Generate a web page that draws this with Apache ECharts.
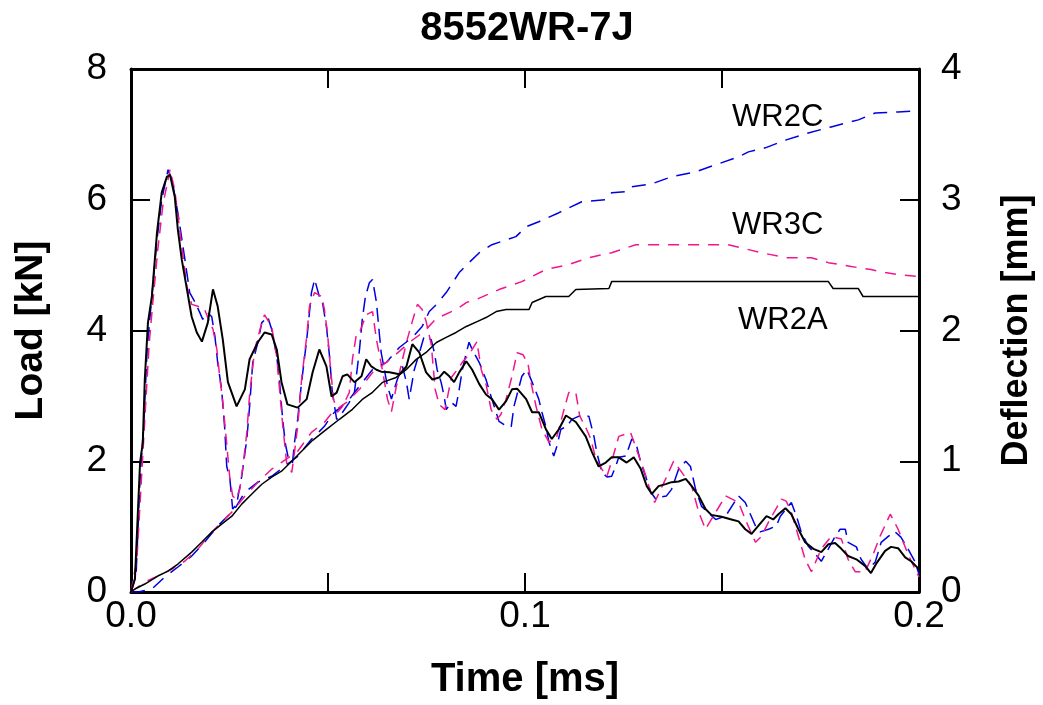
<!DOCTYPE html>
<html>
<head>
<meta charset="utf-8">
<script src="https://cdn.jsdelivr.net/npm/echarts@6/dist/echarts.min.js"></script>
<style>
html,body{margin:0;padding:0;background:#fff;}
#chart{width:1043px;height:705px;}
</style>
</head>
<body>
<div id="chart"></div>
<script>
// ---- Data (time in ms, load in kN, deflection in mm) ----
var xTicks = [0, 0.1, 0.2];

var t2A = [0,0.0010,0.0023,0.0030,0.0035,0.0043,0.0053,0.0066,0.0078,0.0091,0.0099,0.0111,0.0119,0.0129,0.0142,0.0154,0.0167,0.0180,0.0195,0.0208,0.0220,0.0233,0.0246,0.0268,0.0289,0.0301,0.0322,0.0339,0.0357,0.0370,0.0382,0.0397,0.0423,0.0446,0.0461,0.0478,0.0496,0.0509,0.0522,0.0537,0.0549,0.0567,0.0585,0.0597,0.0610,0.0623,0.0635,0.0656,0.0681,0.0699,0.0714,0.0732,0.0749,0.0765,0.0782,0.0795,0.0808,0.0820,0.0833,0.0851,0.0866,0.0884,0.0901,0.0916,0.0934,0.0952,0.0967,0.0980,0.1003,0.1018,0.1035,0.1053,0.1068,0.1086,0.1104,0.1129,0.1154,0.1170,0.1187,0.1205,0.1220,0.1238,0.1258,0.1276,0.1294,0.1309,0.1322,0.1339,0.1357,0.1372,0.1390,0.1408,0.1423,0.1441,0.1458,0.1473,0.1499,0.1524,0.1542,0.1559,0.1575,0.1592,0.1613,0.1630,0.1643,0.1661,0.1676,0.1694,0.1711,0.1732,0.1752,0.1770,0.1787,0.1803,0.1820,0.1841,0.1863,0.1878,0.1891,0.1914,0.1929,0.1947,0.1965,0.1980,0.2000];
var load2A = [0,0.20,1.98,2.29,3.25,4.12,4.52,5.50,6.11,6.35,6.38,6.05,5.54,5.08,4.63,4.21,3.97,3.83,4.12,4.63,4.37,3.86,3.21,2.84,3.10,3.56,3.82,3.97,3.94,3.71,3.21,2.87,2.82,2.95,3.36,3.71,3.45,2.99,3.05,3.30,3.33,3.21,3.30,3.56,3.45,3.40,3.37,3.36,3.33,3.45,3.79,3.66,3.36,3.25,3.28,3.37,3.30,3.21,3.36,3.53,3.40,3.18,3.02,2.95,2.79,2.92,3.10,3.11,2.95,2.75,2.75,2.49,2.34,2.49,2.70,2.60,2.38,2.14,1.92,1.98,2.06,2.06,1.98,2.06,1.88,1.62,1.50,1.62,1.65,1.68,1.69,1.73,1.62,1.47,1.27,1.18,1.15,1.11,1.08,0.96,0.89,1.01,1.16,1.11,1.19,1.28,1.19,0.96,0.76,0.66,0.61,0.73,0.75,0.66,0.55,0.50,0.40,0.29,0.43,0.63,0.69,0.67,0.53,0.47,0.35];

var t2C = [0,0.0013,0.0023,0.0033,0.0041,0.0051,0.0066,0.0078,0.0094,0.0104,0.0119,0.0137,0.0149,0.0162,0.0175,0.0182,0.0195,0.0205,0.0213,0.0220,0.0230,0.0238,0.0243,0.0251,0.0258,0.0268,0.0281,0.0294,0.0301,0.0309,0.0322,0.0332,0.0347,0.0357,0.0370,0.0377,0.0385,0.0392,0.0400,0.0410,0.0415,0.0423,0.0433,0.0446,0.0458,0.0466,0.0478,0.0486,0.0496,0.0504,0.0511,0.0522,0.0537,0.0554,0.0567,0.0580,0.0587,0.0595,0.0605,0.0613,0.0623,0.0630,0.0635,0.0643,0.0651,0.0661,0.0668,0.0676,0.0689,0.0699,0.0706,0.0719,0.0732,0.0744,0.0762,0.0770,0.0777,0.0787,0.0795,0.0800,0.0813,0.0825,0.0833,0.0841,0.0851,0.0858,0.0866,0.0884,0.0901,0.0916,0.0934,0.0947,0.0965,0.0972,0.0992,0.1005,0.1018,0.1035,0.1043,0.1053,0.1061,0.1073,0.1081,0.1091,0.1106,0.1119,0.1137,0.1162,0.1175,0.1182,0.1195,0.1208,0.1220,0.1230,0.1238,0.1256,0.1271,0.1281,0.1294,0.1306,0.1319,0.1332,0.1344,0.1359,0.1372,0.1390,0.1408,0.1420,0.1433,0.1448,0.1484,0.1509,0.1542,0.1559,0.1585,0.1597,0.1618,0.1638,0.1648,0.1676,0.1689,0.1701,0.1719,0.1737,0.1752,0.1770,0.1787,0.1800,0.1813,0.1820,0.1841,0.1853,0.1871,0.1889,0.1904,0.1922,0.1939,0.1954,0.1972,0.1990,0.2000];
var load2C = [0,0.27,1.73,2.64,3.71,4.40,5.39,6.00,6.46,6.31,5.80,5.08,4.58,4.44,4.27,4.17,4.27,4.21,3.91,3.51,3.10,2.49,1.92,1.73,1.27,1.34,1.77,2.34,2.84,3.51,3.82,4.12,4.21,4.02,3.60,3.21,2.64,2.26,2.03,1.98,2.29,2.64,3.21,3.86,4.58,4.78,4.52,4.43,4.06,3.60,3.05,2.64,2.75,2.90,3.05,3.71,4.17,4.52,4.73,4.78,4.43,3.97,3.66,3.40,3.15,2.95,3.10,3.25,3.45,3.21,2.95,3.40,3.66,3.91,3.86,3.66,3.40,3.21,2.99,2.79,2.90,2.84,3.10,3.40,3.66,3.82,3.71,3.51,3.25,2.95,2.61,2.56,2.53,2.84,3.30,3.40,3.21,2.95,2.75,2.53,2.29,2.08,2.23,2.49,2.53,2.64,2.69,2.69,2.38,2.14,1.83,1.76,1.77,1.92,2.06,2.08,2.34,2.29,1.98,1.77,1.53,1.42,1.45,1.47,1.57,1.88,2.00,1.92,1.57,1.31,1.11,1.16,1.47,1.37,1.01,0.92,0.96,1.01,1.16,1.37,1.16,0.92,0.70,0.58,0.47,0.66,0.85,0.96,0.96,0.76,0.69,0.50,0.35,0.46,0.76,0.85,0.92,0.84,0.66,0.46,0.27];

var t3C = [0,0.0015,0.0025,0.0035,0.0046,0.0056,0.0068,0.0081,0.0099,0.0111,0.0129,0.0142,0.0154,0.0170,0.0187,0.0200,0.0208,0.0218,0.0225,0.0233,0.0243,0.0251,0.0258,0.0266,0.0276,0.0284,0.0294,0.0301,0.0314,0.0332,0.0339,0.0357,0.0370,0.0377,0.0385,0.0395,0.0408,0.0415,0.0423,0.0433,0.0446,0.0453,0.0466,0.0484,0.0491,0.0499,0.0506,0.0514,0.0524,0.0537,0.0554,0.0562,0.0572,0.0580,0.0597,0.0613,0.0623,0.0638,0.0651,0.0661,0.0673,0.0686,0.0701,0.0714,0.0727,0.0739,0.0749,0.0762,0.0772,0.0782,0.0797,0.0813,0.0828,0.0843,0.0858,0.0878,0.0889,0.0901,0.0914,0.0929,0.0939,0.0952,0.0967,0.0980,0.0995,0.1008,0.1015,0.1028,0.1043,0.1061,0.1081,0.1099,0.1111,0.1129,0.1139,0.1154,0.1167,0.1180,0.1195,0.1208,0.1223,0.1238,0.1268,0.1289,0.1301,0.1319,0.1329,0.1357,0.1377,0.1398,0.1423,0.1441,0.1458,0.1473,0.1509,0.1542,0.1562,0.1585,0.1600,0.1618,0.1651,0.1663,0.1676,0.1694,0.1711,0.1727,0.1752,0.1777,0.1803,0.1820,0.1838,0.1863,0.1884,0.1901,0.1927,0.1947,0.1972,0.1990,0.2000];
var load3C = [0,0.50,1.57,2.64,3.79,4.47,5.24,5.92,6.46,6.15,5.28,4.67,4.40,4.37,4.32,4.12,4.02,3.71,3.30,2.90,2.26,1.73,1.47,1.42,1.57,1.92,2.44,3.02,3.71,4.12,4.24,4.06,3.60,3.10,2.56,1.98,1.83,2.14,2.53,3.25,3.91,4.37,4.58,4.52,4.32,3.94,3.45,2.95,2.75,2.84,3.05,3.56,3.94,3.97,4.24,4.29,3.86,3.40,2.95,2.76,3.13,3.48,3.86,4.14,4.40,4.32,4.14,3.79,3.10,2.87,2.79,3.28,3.40,3.53,3.63,3.83,3.40,3.18,2.79,2.64,2.72,2.95,3.30,3.66,3.63,3.48,3.21,2.84,2.49,2.29,2.38,2.79,3.05,3.05,2.69,2.52,2.34,2.03,1.88,1.77,2.06,2.38,2.44,2.08,1.88,1.53,1.37,1.73,2.00,1.83,1.62,1.22,0.96,1.11,1.47,1.37,1.07,0.76,0.85,1.07,1.42,1.39,1.22,0.85,0.50,0.31,0.66,0.85,0.81,0.50,0.31,0.31,0.58,0.85,1.19,0.96,0.58,0.35,0.23];

var tD2A = [0,0.0010,0.0035,0.0068,0.0094,0.0119,0.0154,0.0180,0.0205,0.0230,0.0256,0.0281,0.0306,0.0332,0.0357,0.0382,0.0408,0.0433,0.0461,0.0496,0.0529,0.0562,0.0587,0.0613,0.0638,0.0673,0.0699,0.0724,0.0749,0.0775,0.0800,0.0825,0.0851,0.0884,0.0901,0.0927,0.0952,0.1010,0.1018,0.1053,0.1111,0.1129,0.1213,0.1220,0.1770,0.1782,0.1846,0.1858,0.2000];
var def2A = [0,0.023,0.061,0.122,0.160,0.214,0.305,0.382,0.458,0.519,0.580,0.672,0.748,0.824,0.878,0.924,1.000,1.076,1.160,1.244,1.321,1.397,1.473,1.527,1.603,1.641,1.702,1.779,1.832,1.908,1.947,1.985,2.031,2.076,2.099,2.145,2.160,2.160,2.214,2.260,2.260,2.313,2.321,2.374,2.374,2.321,2.321,2.260,2.260];

var tD2C = [0,0.0018,0.0053,0.0086,0.0119,0.0154,0.0187,0.0220,0.0263,0.0289,0.0322,0.0357,0.0390,0.0423,0.0458,0.0491,0.0511,0.0554,0.0587,0.0613,0.0648,0.0681,0.0714,0.0739,0.0757,0.0775,0.0800,0.0833,0.0858,0.0884,0.0916,0.0977,0.1003,0.1035,0.1086,0.1144,0.1205,0.1220,0.1256,0.1271,0.1322,0.1372,0.1433,0.1491,0.1542,0.1567,0.1610,0.1663,0.1719,0.1777,0.1846,0.1889,0.1947,0.2000];
var def2C = [0,0,0.023,0.115,0.191,0.275,0.382,0.504,0.634,0.763,0.840,0.885,0.962,1.038,1.168,1.267,1.359,1.473,1.603,1.702,1.756,1.870,1.947,2.031,2.145,2.198,2.290,2.443,2.519,2.595,2.656,2.718,2.794,2.832,2.901,2.985,3.000,3.053,3.061,3.099,3.122,3.176,3.214,3.275,3.328,3.366,3.397,3.458,3.511,3.557,3.611,3.664,3.672,3.679];

var tD3C = [0,0.0003,0.0035,0.0068,0.0104,0.0137,0.0170,0.0205,0.0230,0.0256,0.0289,0.0322,0.0357,0.0382,0.0423,0.0458,0.0491,0.0511,0.0547,0.0580,0.0613,0.0648,0.0681,0.0706,0.0744,0.0775,0.0825,0.0851,0.0876,0.0934,0.0992,0.1053,0.1111,0.1162,0.1220,0.1281,0.1516,0.1600,0.1661,0.1727,0.1770,0.1828,0.1878,0.1914,0.1947,0.2000];
var def3C = [0,0.008,0.076,0.122,0.176,0.237,0.328,0.458,0.534,0.611,0.733,0.840,0.939,0.992,1.076,1.221,1.298,1.374,1.450,1.550,1.679,1.756,1.840,1.908,1.992,2.092,2.160,2.214,2.237,2.313,2.374,2.466,2.504,2.557,2.595,2.656,2.656,2.595,2.557,2.557,2.519,2.489,2.466,2.443,2.427,2.412];

// ---- Build ----
function zip(a, b) {
  var n = Math.min(a.length, b.length), out = [];
  for (var i = 0; i < n; i++) out.push([a[i], b[i]]);
  return out;
}
var FONT = '"Liberation Sans", Arial, Helvetica, sans-serif';
var BLUE = '#0000e0', PINK = '#f0168c', BLACK = '#000000';

var axisLine = {show: true, onZero: false, lineStyle: {color: '#000', width: 3}};
var axisTick = {show: true, inside: true, length: 19, lineStyle: {color: '#000', width: 2}};

function xFmt(v) {
  for (var i = 0; i < xTicks.length; i++) {
    if (Math.abs(v - xTicks[i]) < 1e-9) return v.toFixed(1);
  }
  return '';
}

var chart = echarts.init(document.getElementById('chart'), null, {renderer: 'canvas'});
chart.setOption({
  animation: false,
  backgroundColor: '#fff',
  textStyle: {fontFamily: FONT},
  grid: {left: 131, right: 122, top: 69, bottom: 112, containLabel: false},
  graphic: [
    {type: 'text', x: 527, y: 29, style: {text: '8552WR-7J', font: 'bold 40px ' + FONT, fill: '#000', textAlign: 'center', textVerticalAlign: 'middle'}},
    {type: 'text', x: 732, y: 117, style: {text: 'WR2C', font: '31px ' + FONT, fill: '#000', textAlign: 'left', textVerticalAlign: 'middle'}},
    {type: 'text', x: 732, y: 225, style: {text: 'WR3C', font: '31px ' + FONT, fill: '#000', textAlign: 'left', textVerticalAlign: 'middle'}},
    {type: 'text', x: 738, y: 320, style: {text: 'WR2A', font: '31px ' + FONT, fill: '#000', textAlign: 'left', textVerticalAlign: 'middle'}}
  ],
  xAxis: [
    {
      type: 'value', min: 0, max: 0.2, interval: 0.05, position: 'bottom',
      axisLine: axisLine, axisTick: axisTick, splitLine: {show: false},
      axisLabel: {formatter: xFmt, fontSize: 37, color: '#000', margin: 6, fontFamily: FONT},
      name: 'Time [ms]', nameLocation: 'middle', nameGap: 68,
      nameTextStyle: {fontSize: 40, fontWeight: 'bold', color: '#000', fontFamily: FONT}
    },
    {
      type: 'value', min: 0, max: 0.2, interval: 0.05, position: 'top',
      axisLine: axisLine, axisTick: axisTick, splitLine: {show: false},
      axisLabel: {show: false}
    }
  ],
  yAxis: [
    {
      type: 'value', min: 0, max: 8, interval: 2, position: 'left',
      axisLine: axisLine, axisTick: axisTick, splitLine: {show: false},
      axisLabel: {fontSize: 37, color: '#000', margin: 24, fontFamily: FONT},
      name: 'Load [kN]', nameLocation: 'middle', nameGap: 80, nameRotate: 90,
      nameTextStyle: {fontSize: 39, fontWeight: 'bold', color: '#000', fontFamily: FONT}
    },
    {
      type: 'value', min: 0, max: 4, interval: 1, position: 'right',
      axisLine: axisLine, axisTick: axisTick, splitLine: {show: false},
      axisLabel: {fontSize: 37, color: '#000', margin: 22, fontFamily: FONT},
      name: 'Deflection [mm]', nameLocation: 'middle', nameGap: 80, nameRotate: 90,
      nameTextStyle: {fontSize: 36, fontWeight: 'bold', color: '#000', fontFamily: FONT}
    }
  ],
  series: [
    {name: 'WR2C load', type: 'line', xAxisIndex: 0, yAxisIndex: 0, data: zip(t2C, load2C), showSymbol: false, symbol: 'none',
      lineStyle: {color: BLUE, width: 1.5, type: [14, 7]}},
    {name: 'WR3C load', type: 'line', xAxisIndex: 0, yAxisIndex: 0, data: zip(t3C, load3C), showSymbol: false, symbol: 'none',
      lineStyle: {color: PINK, width: 1.5, type: [11, 7]}},
    {name: 'WR2C deflection', type: 'line', xAxisIndex: 0, yAxisIndex: 1, data: zip(tD2C, def2C), showSymbol: false, symbol: 'none',
      lineStyle: {color: BLUE, width: 1.5, type: [14, 9]}},
    {name: 'WR3C deflection', type: 'line', xAxisIndex: 0, yAxisIndex: 1, data: zip(tD3C, def3C), showSymbol: false, symbol: 'none',
      lineStyle: {color: PINK, width: 1.5, type: [11, 9]}},
    {name: 'WR2A deflection', type: 'line', xAxisIndex: 0, yAxisIndex: 1, data: zip(tD2A, def2A), showSymbol: false, symbol: 'none',
      lineStyle: {color: BLACK, width: 1.5}},
    {name: 'WR2A load', type: 'line', xAxisIndex: 0, yAxisIndex: 0, data: zip(t2A, load2A), showSymbol: false, symbol: 'none',
      lineStyle: {color: BLACK, width: 2}}
  ]
});
</script>
</body>
</html>
